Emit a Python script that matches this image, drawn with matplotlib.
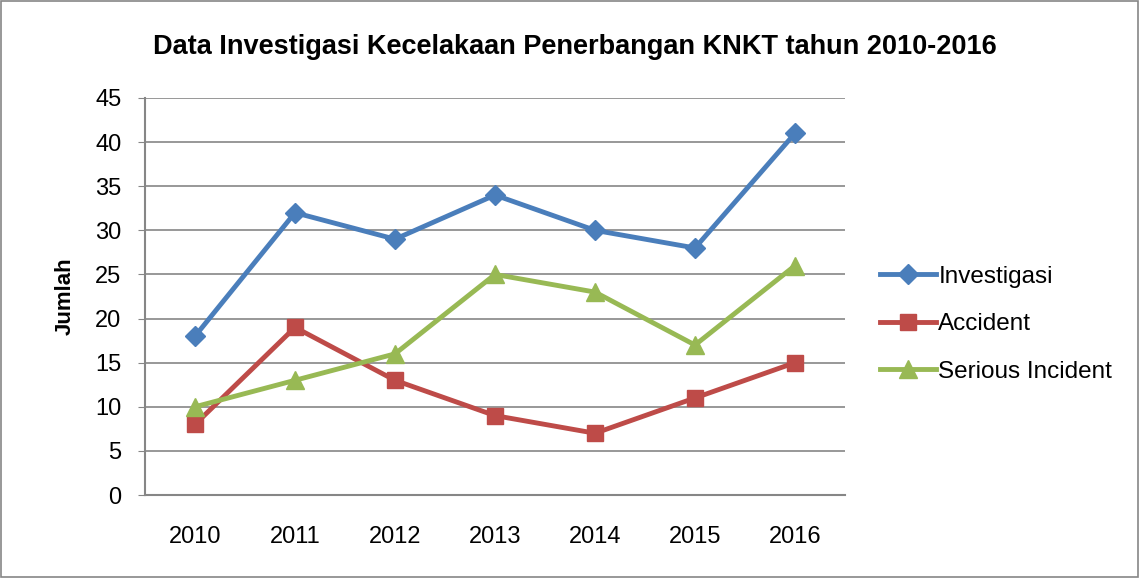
import matplotlib
matplotlib.use("Agg")
import matplotlib.pyplot as plt
from matplotlib.patches import Rectangle

years = ["2010", "2011", "2012", "2013", "2014", "2015", "2016"]
investigasi = [18, 32, 29, 34, 30, 28, 41]
accident = [8, 19, 13, 9, 7, 11, 15]
serious = [10, 13, 16, 25, 23, 17, 26]
yticks = [0, 5, 10, 15, 20, 25, 30, 35, 40, 45]

plt.rcParams["font.family"] = ["Liberation Sans", "DejaVu Sans"]

fig = plt.figure(figsize=(11.39, 5.78), dpi=100)
ax = fig.add_axes([145/1139, 1 - 495/578, 700/1139, 397/578])

x = range(len(years))
ax.plot(x, investigasi, color="#4A7EBB", lw=3.5, marker="D", ms=10, label="Investigasi")
ax.plot(x, accident, color="#BE4B48", lw=3.5, marker="s", ms=12, label="Accident")
ax.plot(x, serious, color="#98B954", lw=3.5, marker="^", ms=13, label="Serious Incident")

ax.set_xlim(-0.5, 6.5)
ax.set_ylim(0, 45)
ax.set_yticks(yticks)
ax.set_xticks(list(x))
ax.set_xticklabels(years)
ax.tick_params(axis="x", length=0, pad=22, labelsize=17)
ax.tick_params(axis="y", length=5, color="#868686", pad=12, labelsize=17)
ax.grid(axis="y", color="#868686", lw=1.2)
ax.set_axisbelow(True)
for s in ["top", "right"]:
    ax.spines[s].set_visible(False)
for s in ["left", "bottom"]:
    ax.spines[s].set_color("#868686")
    ax.spines[s].set_linewidth(1.5)

ax.set_ylabel("Jumlah", fontsize=16, fontweight="bold", labelpad=14)
fig.text(575/1139, 1 - 47/578, "Data Investigasi Kecelakaan Penerbangan KNKT tahun 2010-2016",
         ha="center", va="center", fontsize=19.5, fontweight="bold")

ax.legend(loc="center left", bbox_to_anchor=(1.05, 0.43), frameon=False,
          fontsize=17.5, handlelength=2.3, handletextpad=0.1, labelspacing=1.05,
          borderaxespad=0, borderpad=0)

fig.patches.append(Rectangle((1/1139, 1/578), 1 - 2/1139, 1 - 2/578, transform=fig.transFigure,
                             fill=False, edgecolor="#868686", lw=1.2))

fig.savefig("out.png", dpi=100)
